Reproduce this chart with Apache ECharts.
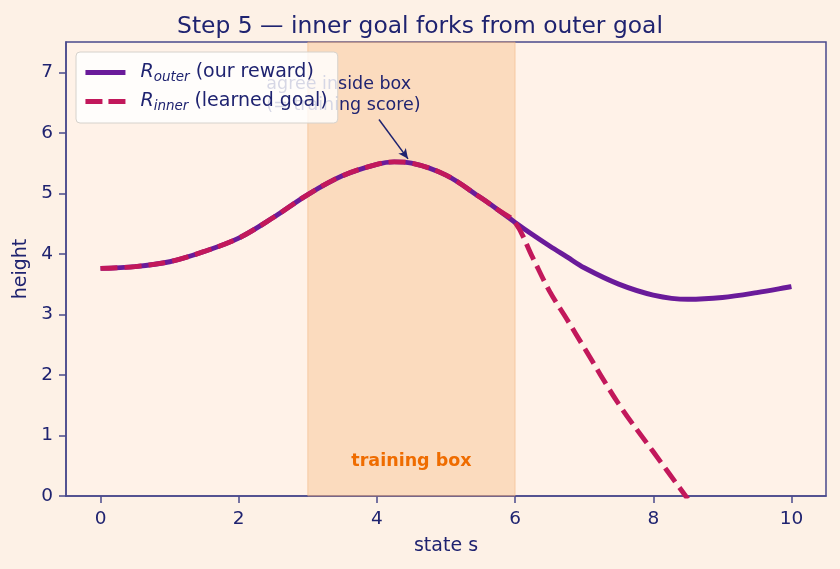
<!DOCTYPE html>
<html>
<head>
<meta charset="utf-8">
<script src="https://cdn.jsdelivr.net/npm/echarts@6/dist/echarts.min.js"></script>
<style>
  html, body { margin: 0; padding: 0; background: #fdf1e6; }
  #box { width: 840px; height: 569px; }
</style>
</head>
<body>
<div id="box"></div>
<script>
window.onload = function () {

    var myChart = echarts.init(document.getElementById('box'));

    // state s (denser around the peak and the fork)
    var stateS = [0, 0.5, 1, 1.5, 2, 2.5, 3, 3.5, 4, 4.25, 4.5, 5, 5.5, 5.75, 6, 6.25, 6.5, 6.75, 7, 7.5, 8, 8.5, 9, 9.5, 10];
    var outerVals = [3.76, 3.79, 3.87, 4.04, 4.26, 4.60, 4.98, 5.29, 5.48, 5.52, 5.50, 5.30, 4.93, 4.73, 4.52, 4.32, 4.13, 3.95, 3.77, 3.50, 3.32, 3.25, 3.28, 3.36, 3.46];
    var innerVals = [3.76, 3.79, 3.87, 4.04, 4.26, 4.60, 4.98, 5.29, 5.48, 5.52, 5.50, 5.30, 4.93, 4.73, 4.52, 3.95, 3.38, 2.92, 2.45, 1.52, 0.73, -0.05, null, null, null];
    var xTicks = [0, 2, 4, 6, 8, 10];
    var yTicks = [0, 1, 2, 3, 4, 5, 6, 7];
    var trainBox = [3, 6];
    var notePos = [2.40, 6.63];       // where the note text sits
    var arrowFrom = [4.03, 6.22];
    var arrowTo = [4.45, 5.57];

    var navy = '#1f2370';
    var spine = '#4a4a8c';
    var outerColor = '#6a1b9a';
    var innerColor = '#c2185b';

    function pairs(vals) {
        var out = [];
        for (var i = 0; i < stateS.length; i++) {
            if (vals[i] !== null) out.push([stateS[i], vals[i]]);
        }
        return out;
    }

    var font = 'DejaVu Sans';

    option = {
        backgroundColor: '#fdf1e6',
        textStyle: { fontFamily: font, color: navy },
        title: {
            text: 'Step 5 \u2014 inner goal forks from outer goal',
            left: 'center',
            top: 10,
            textStyle: { fontFamily: font, fontSize: 23.4, fontWeight: 'normal', color: navy }
        },
        legend: {
            orient: 'vertical',
            left: 76,
            top: 52,
            z: 20,
            padding: [11, 10, 10, 7],
            itemWidth: 40,
            itemHeight: 14,
            itemGap: 8,
            backgroundColor: 'rgba(255,255,255,0.82)',
            borderColor: '#d6d2cc',
            borderWidth: 1,
            borderRadius: 4,
            itemStyle: { opacity: 0 },
            data: [
                { name: 'outer', lineStyle: { width: 4.9, color: outerColor } },
                { name: 'inner', lineStyle: { width: 4.9, color: innerColor, type: [17, 6] } }
            ],
            formatter: function (name) {
                if (name === 'outer') return '{i|R}{s|outer} (our reward)';
                return '{i|R}{s|inner} (learned goal)';
            },
            textStyle: {
                fontFamily: font,
                fontSize: 19,
                color: navy,
                padding: [0, 0, 0, 10],
                rich: {
                    i: { fontFamily: font, fontSize: 19, fontStyle: 'italic', color: navy },
                    s: { fontFamily: font, fontSize: 13.5, fontStyle: 'italic', color: navy, verticalAlign: 'bottom', padding: [9, 0, 0, 0] }
                }
            }
        },
        grid: {
            left: 66,
            right: 14,
            top: 42,
            bottom: 73,
            show: true,
            backgroundColor: '#fff2e8',
            borderColor: spine,
            borderWidth: 1.5
        },
        xAxis: {
            type: 'value',
            min: -0.5,
            max: 10.5,
            name: 'state s',
            nameLocation: 'middle',
            nameGap: 41,
            nameTextStyle: { fontFamily: font, fontSize: 19, color: navy },
            splitLine: { show: false },
            axisLine: { onZero: false, lineStyle: { color: spine, width: 1.5 } },
            axisTick: { show: true, length: 7, customValues: xTicks, lineStyle: { color: spine, width: 1.5 } },
            axisLabel: { customValues: xTicks, margin: 14, fontFamily: font, fontSize: 18.5, color: navy }
        },
        yAxis: {
            type: 'value',
            min: 0,
            max: 7.5,
            name: 'height',
            nameLocation: 'middle',
            nameGap: 32,
            nameTextStyle: { fontFamily: font, fontSize: 19, color: navy },
            splitLine: { show: false },
            axisLine: { show: true, onZero: false, lineStyle: { color: spine, width: 1.5 } },
            axisTick: { show: true, length: 7, customValues: yTicks, lineStyle: { color: spine, width: 1.5 } },
            axisLabel: { customValues: yTicks, margin: 13, fontFamily: font, fontSize: 18.5, color: navy }
        },
        series: [{
            name: 'outer',
            type: 'line',
            data: pairs(outerVals),
            smooth: 0.35,
            symbol: 'none',
            z: 3,
            lineStyle: { color: outerColor, width: 4.9 },
            itemStyle: { color: outerColor },
            markArea: {
                silent: true,
                itemStyle: { color: 'rgba(247,190,140,0.45)', borderColor: 'rgba(240,170,110,0.45)', borderWidth: 1 },
                label: {
                    show: true,
                    position: 'insideBottom',
                    distance: 26,
                    fontFamily: font,
                    fontSize: 17.5,
                    fontWeight: 'bold',
                    color: '#ef6c00'
                },
                data: [[{ name: 'training box', xAxis: trainBox[0] }, { xAxis: trainBox[1] }]]
            },
            markPoint: {
                silent: true,
                symbol: 'circle',
                symbolSize: 0,
                label: {
                    show: true,
                    position: 'right',
                    distance: 0,
                    align: 'left',
                    fontFamily: font,
                    fontSize: 17.5,
                    lineHeight: 21,
                    color: navy,
                    formatter: 'agree inside box\n(= training score)'
                },
                data: [{ coord: notePos }]
            },
            markLine: {
                silent: true,
                symbol: ['none', 'arrow'],
                symbolSize: [7, 10],
                label: { show: false },
                lineStyle: { color: navy, width: 1.5, type: 'solid' },
                data: [[{ coord: arrowFrom }, { coord: arrowTo }]]
            }
        }, {
            name: 'inner',
            type: 'line',
            data: pairs(innerVals),
            smooth: 0.35,
            symbol: 'none',
            z: 4,
            clip: true,
            lineStyle: { color: innerColor, width: 4.9, type: [17, 7] },
            itemStyle: { color: innerColor }
        }]
    };
    myChart.setOption(option);
    window.addEventListener('resize', function () {
        myChart.resize();
    });
}
</script>
</body>
</html>
